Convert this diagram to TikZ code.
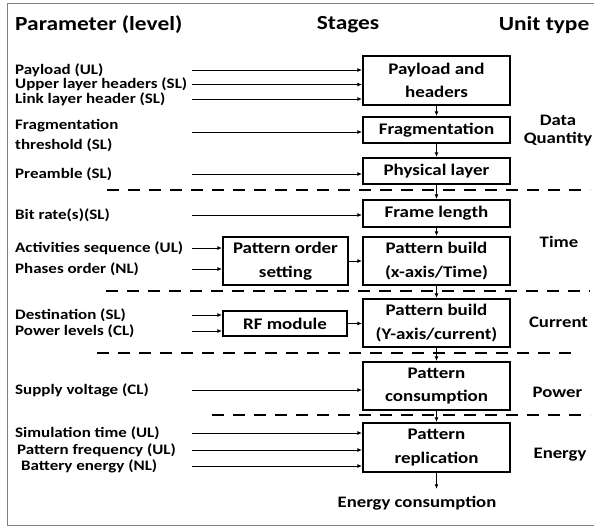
\documentclass[tikz,border=0pt]{standalone}
\usepackage{fontspec}
\setmainfont{Carlito}[FakeStretch=1.17]
\usetikzlibrary{arrows.meta}
\usetikzlibrary{positioning}
\tikzset{stage/.style = {draw, line width=2.2pt, minimum width=147pt, align=center,
                         inner sep=0pt, font=\fontsize{16.2}{23.5}\selectfont\bfseries}}
\tikzset{param/.style = {anchor=west, inner sep=0pt, align=left,
                         font=\fontsize{14.5}{20}\selectfont\bfseries}}
\tikzset{unit/.style = {align=center, inner sep=0pt,
                        font=\fontsize{16}{18}\selectfont\bfseries}}
\tikzset{head/.style = {inner sep=0pt, font=\fontsize{20}{22}\selectfont\bfseries}}
\tikzset{->/.style = {-{Latex[length=4.5pt, width=3.8pt]}, line width=0.7pt}}
\tikzset{sep/.style = {line width=2.1pt, dash pattern=on 12pt off 9pt}}

\begin{document}
\begin{tikzpicture}[x=1pt, y=-1pt]
      \useasboundingbox (0, 0) rectangle (594, 527);
      \draw [gray, line width=0.8pt] (600, 3) -- (7, 3) -- (7, 525) -- (600, 525);
      % column titles
      \node [head, anchor=west] (thpar) at (15, 25) {Parameter (level)};
      \node [head] (thstg) at (348, 25) {Stages};
      \node [head] (thunit) at (544, 25) {Unit type};
      % stages
      \node [stage, minimum height=49pt] (pay) at (436.5, 80.5) {Payload and\\headers};
      \node [stage, minimum height=26pt] (frag) at (436.5, 130) {Fragmentation};
      \node [stage, minimum height=26pt] (phy) at (436.5, 171) {Physical layer};
      \node [stage, minimum height=27pt] (frame) at (436.5, 213.5) {Frame length};
      \node [stage, minimum height=48pt] (time) at (436.5, 261) {Pattern build\\(x-axis/Time)};
      \node [stage, minimum height=48pt] (cur) at (436.5, 323) {Pattern build\\(Y-axis/current)};
      \node [stage, minimum height=48pt] (pow) at (436.5, 386) {Pattern\\consumption};
      \node [stage, minimum height=49pt] (rep) at (436.5, 447.5) {Pattern\\replication};
      \node [stage, minimum width=125pt, minimum height=48pt] (order) at (285.5, 261) {Pattern order\\setting};
      \node [stage, minimum width=124pt, minimum height=25pt] (rf) at (285, 323.5) {RF module};
      \node [unit] (econs) at (417, 503) {Energy consumption};
      % parameters
      \node [param] (ppay) at (15, 70) {Payload (UL)};
      \node [param] (pupper) at (15, 84.5) {Upper layer headers (SL)};
      \node [param] (plink) at (15, 99) {Link layer header (SL)};
      \node [param] (pfrag) at (15, 135) {Fragmentation\\threshold (SL)};
      \node [param] (ppre) at (15, 174) {Preamble (SL)};
      \node [param] (pbit) at (15, 215) {Bit rate(s)(SL)};
      \node [param] (pact) at (15, 248) {Activities sequence (UL)};
      \node [param] (pphase) at (15, 269) {Phases order (NL)};
      \node [param] (pdest) at (15, 315) {Destination (SL)};
      \node [param] (plev) at (15, 331) {Power levels (CL)};
      \node [param] (psup) at (15, 390) {Supply voltage (CL)};
      \node [param] (psim) at (15, 433) {Simulation time (UL)};
      \node [param] (pfreq) at (17, 450) {Pattern frequency (UL)};
      \node [param] (pbat) at (21, 466) {Battery energy (NL)};
      % units
      \node [unit] (udata) at (558, 131) {Data\\Quantity};
      \node [unit] (utime) at (559, 242) {Time};
      \node [unit] (ucur) at (558.5, 322) {Current};
      \node [unit] (upow) at (557.5, 392) {Power};
      \node [unit] (uen) at (560, 455) {Energy};
      % inputs
      \coordinate (in) at (192, 0);
      \coordinate (infrag) at (192, 132);
      \draw [->] (in |- ppay) -- (pay.west |- ppay);
      \draw [->] (in |- pupper) -- (pay.west |- pupper);
      \draw [->] (in |- plink) -- (pay.west |- plink);
      \draw [->] (infrag) -- (frag.west |- infrag);
      \draw [->] (in |- ppre) -- (phy.west |- ppre);
      \draw [->] (in |- pbit) -- (frame.west |- pbit);
      \draw [->] (in |- pact) -- (order.west |- pact);
      \draw [->] (in |- pphase) -- (order.west |- pphase);
      \draw [->] (in |- pdest) -- (rf.west |- pdest);
      \draw [->] (in |- plev) -- (rf.west |- plev);
      \draw [->] (in |- psup) -- (pow.west |- psup);
      \draw [->] (in |- psim) -- (rep.west |- psim);
      \draw [->] (in |- pfreq) -- (rep.west |- pfreq);
      \draw [->] (in |- pbat) -- (rep.west |- pbat);
      \draw [->] (order) -- (time);
      \draw [->] (rf.east) -- (cur.west |- rf.east);
      % chain of stages
      \draw [->] (pay) -- (frag);
      \draw [->] (frag) -- (phy);
      \draw [->] (phy) -- (frame);
      \draw [->] (frame) -- (time);
      \draw [->] (time) -- (cur);
      \draw [->] (cur) -- (pow);
      \draw [->] (pow) -- (rep);
      \draw [->, shorten >=7pt] (rep.south) -- (rep.south |- econs.north);
      % borders between unit types
      \draw [sep] (107, 190) -- (590, 190);
      \draw [sep] (106, 291) -- (590, 291);
      \draw [sep] (97, 353) -- (577, 353);
      \draw [sep] (212, 415) -- (590, 415);
    \end{tikzpicture}
\end{document}
